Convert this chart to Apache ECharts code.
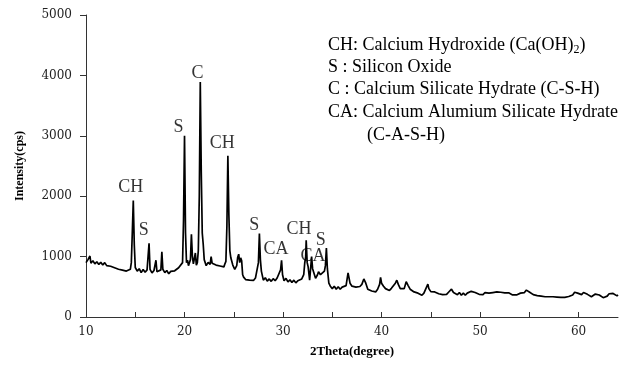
<!DOCTYPE html>
<html>
<head>
<meta charset="utf-8">
<script src="https://cdn.jsdelivr.net/npm/echarts@6/dist/echarts.min.js"></script>
<style>
html,body{margin:0;padding:0;background:#fff;}
#chart{width:628px;height:366px;}
</style>
</head>
<body>
<div id="chart"></div>
<script>
// ---- data ----
const twoTheta = [
10.0,10.2,10.4,10.5,10.7,10.9,11.1,11.3,11.5,11.7,11.9,12.1,12.3,12.5,12.7,12.9,13.1,13.3,13.5,13.7,13.9,14.1,14.3,14.5,14.6,14.7,14.8,14.9,15.0,15.2,15.4,15.6,15.8,16.0,16.2,16.3,16.4,16.5,16.7,16.9,17.0,17.1,17.2,17.4,17.6,17.7,17.8,18.0,18.2,18.4,18.6,18.8,19.0,19.2,19.4,19.6,19.8,19.9,20.0,20.1,20.2,20.3,20.4,20.5,20.6,20.7,20.8,20.9,21.0,21.1,21.2,21.3,21.4,21.5,21.6,21.7,21.8,21.9,22.0,22.2,22.4,22.6,22.7,22.8,23.0,23.2,23.4,23.6,23.8,24.0,24.1,24.2,24.3,24.4,24.5,24.6,24.7,24.9,25.1,25.3,25.4,25.5,25.6,25.7,25.8,25.9,26.0,26.2,26.4,26.6,26.8,27.0,27.2,27.4,27.5,27.6,27.7,27.8,28.0,28.2,28.4,28.6,28.8,29.0,29.2,29.4,29.6,29.75,29.85,29.95,30.1,30.3,30.5,30.7,30.9,31.1,31.3,31.5,31.7,31.9,32.1,32.2,32.3,32.35,32.45,32.55,32.7,32.8,32.9,33.0,33.1,33.3,33.5,33.6,33.8,34.0,34.2,34.3,34.4,34.5,34.65,34.8,35.0,35.2,35.4,35.6,35.8,36.0,36.2,36.4,36.6,36.8,37.0,37.2,37.4,37.6,37.8,38.0,38.2,38.4,38.6,38.8,39.0,39.2,39.4,39.6,39.8,39.9,40.0,40.2,40.4,40.6,40.8,41.0,41.2,41.4,41.55,41.7,41.9,42.1,42.3,42.5,42.7,42.9,43.1,43.3,43.5,43.7,43.9,44.1,44.3,44.5,44.7,44.8,45.0,45.2,45.4,45.6,45.8,46.0,46.2,46.4,46.6,46.8,47.0,47.1,47.3,47.5,47.7,47.9,48.1,48.3,48.5,48.7,48.9,49.1,49.3,49.5,49.7,49.9,50.1,50.3,50.5,50.7,50.9,51.1,51.3,51.5,51.7,51.9,52.1,52.3,52.5,52.7,52.9,53.1,53.3,53.5,53.7,53.9,54.1,54.3,54.5,54.7,54.8,55.0,55.2,55.4,55.6,55.8,56.0,56.2,56.4,56.6,56.8,57.0,57.2,57.4,57.6,57.8,58.0,58.2,58.4,58.6,58.8,59.0,59.2,59.4,59.6,59.7,59.9,60.1,60.3,60.5,60.7,60.9,61.1,61.3,61.5,61.7,61.9,62.1,62.3,62.5,62.7,62.9,63.1,63.3,63.5,63.7,63.9,64.0
];
const intensity = [
900,950,1010,890,930,880,915,870,905,860,900,850,880,840,860,815,835,790,820,775,800,760,790,790,900,1400,1930,1200,820,760,800,735,785,740,780,800,1220,790,730,770,790,940,750,735,780,1080,790,735,770,715,755,725,765,770,815,820,900,1600,3000,1400,900,940,850,880,950,1370,1000,880,900,1060,860,900,1100,2000,3890,2400,1390,1200,950,850,905,870,1000,890,880,860,885,845,860,830,880,920,1500,2670,1700,1100,980,860,790,850,990,1040,900,980,930,700,660,620,650,610,640,605,645,660,900,1380,950,760,610,650,595,630,590,635,600,645,650,780,940,700,600,640,580,615,570,610,565,600,590,630,700,890,1000,1270,900,830,610,800,1000,800,770,640,700,750,700,730,760,850,1140,800,560,510,470,510,460,500,460,495,470,520,730,560,510,530,495,520,505,540,630,560,460,470,430,445,415,460,540,655,560,510,470,475,440,475,500,560,610,540,470,440,470,585,520,460,430,415,410,395,390,360,395,400,545,470,420,435,415,410,385,415,370,380,375,410,425,460,405,400,370,405,360,395,360,395,395,425,450,405,405,375,400,370,405,380,395,380,405,385,415,385,410,405,400,425,400,395,365,375,365,385,395,425,405,445,475,415,400,370,380,355,380,345,360,335,360,335,355,335,345,330,350,325,350,325,355,340,360,365,410,435,395,400,370,405,420,375,370,335,365,380,405,365,345,320,330,345,385,415,390,375,350,365
];
const peakNames = ['CH','S','S','C','CH','S','CA','CH','CA','S'];
const peakLabelX = [14.55,15.86,19.39,21.31,23.84,27.07,29.29,31.62,33.03,33.84];
const peakLabelY = [2149,1438,3140,4033,2876,1521,1124,1455,1008,1273];
const xTickValues = [10,15,20,25,30,35,40,45,50,55,60];
const xLabelValues = [10,20,30,40,50,60];
const yTickValues = [0,1000,2000,3000,4000,5000];
const legendLines = [
  ['CH: Calcium Hydroxide (Ca(OH)', '2', ')'],
  ['S : Silicon Oxide'],
  ['C : Calcium Silicate Hydrate (C-S-H)'],
  ['CA: Calcium Alumium Silicate Hydrate'],
  ['(C-A-S-H)']
];
const xTitle = '2Theta(degree)';
const yTitle = 'Intensity(cps)';

// ---- build chart ----
const lineData = twoTheta.map((x, i) => [x, intensity[i]]);
const labelData = peakNames.map((n, i) => ({ name: n, value: [peakLabelX[i], peakLabelY[i]] }));

const serif = '"Liberation Serif", "Times New Roman", serif';
const legendX = [328, 328, 328, 328, 367];
const legendY = [45, 67.5, 89.5, 112, 135];
const graphics = legendLines.map((parts, i) => {
  let text;
  if (parts.length === 3) text = '{a|' + parts[0] + '}{s|' + parts[1] + '}{a|' + parts[2] + '}';
  else text = '{a|' + parts[0] + '}';
  return {
    type: 'text', x: legendX[i], y: legendY[i], z: 10,
    style: {
      text: text, verticalAlign: 'middle', align: 'left',
      rich: {
        a: { fontFamily: serif, fontSize: 18, fill: '#000', lineHeight: 20 },
        s: { fontFamily: serif, fontSize: 12, fill: '#000', lineHeight: 20, padding: [9, 0, 0, 0] }
      }
    }
  };
});

const chart = echarts.init(document.getElementById('chart'), null, { renderer: 'canvas' });
chart.setOption({
  animation: false,
  backgroundColor: '#fff',
  grid: { left: 86, right: 10, top: 15, bottom: 49, containLabel: false },
  xAxis: {
    type: 'value', min: 10, max: 64, interval: 5,
    name: xTitle, nameLocation: 'middle', nameGap: 28,
    nameTextStyle: { fontFamily: serif, fontWeight: 'bold', fontSize: 13, color: '#000' },
    axisLine: { show: true, lineStyle: { color: '#333', width: 1 } },
    axisTick: { show: true, inside: true, length: 5, customValues: xTickValues, lineStyle: { color: '#333' } },
    axisLabel: { customValues: xLabelValues, margin: 9, fontFamily: '"DejaVu Serif", serif', fontSize: 12, color: '#222',
                 formatter: v => String(v) },
    splitLine: { show: false }
  },
  yAxis: {
    type: 'value', min: 0, max: 5000, interval: 1000,
    name: yTitle, nameLocation: 'middle', nameGap: 60, nameRotate: 90,
    nameTextStyle: { fontFamily: serif, fontWeight: 'bold', fontSize: 12, color: '#000' },
    axisLine: { show: true, lineStyle: { color: '#333', width: 1 } },
    axisTick: { show: true, inside: false, length: 6, customValues: yTickValues, lineStyle: { color: '#333' } },
    axisLabel: { customValues: yTickValues, margin: 14, fontFamily: '"DejaVu Serif", serif', fontSize: 12, color: '#222',
                 formatter: v => String(v) },
    splitLine: { show: false }
  },
  series: [
    {
      type: 'line', data: lineData, showSymbol: false, symbol: 'none',
      lineStyle: { color: '#000', width: 1.7 }, z: 3
    },
    {
      type: 'scatter', data: labelData, symbolSize: 1, itemStyle: { color: 'rgba(0,0,0,0)' }, z: 5,
      label: { show: true, position: 'inside', formatter: p => p.name,
               fontFamily: serif, fontSize: 18, color: '#000' }
    }
  ],
  graphic: graphics
});
</script>
</body>
</html>
